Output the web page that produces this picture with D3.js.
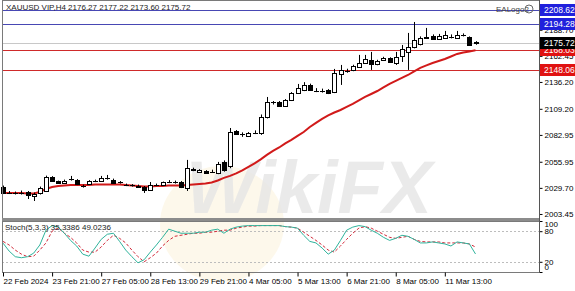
<!DOCTYPE html>
<html>
<head>
<meta charset="utf-8">
<script src="https://cdn.jsdelivr.net/npm/d3@7"></script>
<style>
	body { margin: 0; background: #fff; }
	svg { display: block; }
	text { font-family: 'Liberation Sans', Arial, sans-serif; }
</style>
</head>
<body>
<script>
// H4 candles
var opens = [2030.6,2024.6,2025,2024.5,2025.6,2021.6,2024.6,2026.6,2040.7,2036.6,
	2035,2038.5,2037.7,2032,2033.6,2036.6,2036.6,2039,2038,2035,
	2033,2032.6,2032,2030.6,2027.6,2032.6,2032.6,2035.6,2035.6,2035.6,
	2029.6,2048.5,2045.7,2046.7,2045.7,2044.7,2055.8,2051.7,2086.9,2084,
	2081.9,2085,2084.9,2101,2115.6,2116.1,2112.1,2118.1,2125.1,2128.2,
	2133.2,2127.5,2127.1,2128.2,2126.1,2144.2,2147.5,2148.3,2151.3,2155.3,
	2158.3,2154.3,2158.3,2160.3,2155.3,2162.3,2166.4,2171.4,2174.4,2181.5,
	2182.5,2179.4,2180.4,2181.5,2180.4,2183.3,2181.4,2176.27];
var highs = [2032,2026.5,2026,2027,2026.5,2025,2031,2042,2041.5,2037,
	2038,2041.7,2038.5,2033,2037.5,2038,2041.7,2042.7,2039,2036.5,
	2034,2033.5,2033,2031.5,2035.6,2034,2036,2037.5,2037,2036.5,
	2057.8,2050,2048.5,2047.5,2048,2055.8,2057.3,2089.9,2087.8,2085.5,
	2085.8,2087.5,2103.5,2121.1,2117,2117,2119,2126,2134.2,2136,
	2134.5,2130,2129.5,2129,2149.3,2153.3,2149.5,2153.5,2163.4,2163.4,
	2166.4,2158.5,2161.5,2161,2166.4,2173.4,2185.5,2196.5,2182,2190.5,
	2184,2184.5,2187.5,2184,2187.5,2185,2182,2177.22];
var lows = [2023.5,2023.5,2023,2023,2018.5,2016.5,2023,2025.5,2036,2034,
	2034.5,2037,2032.5,2030,2033,2035.5,2036,2038,2034,2034,
	2031.5,2031,2030.5,2024.6,2027,2031.5,2032,2034.5,2034,2029.5,
	2026.6,2046.5,2045,2044,2045,2043.5,2046,2049.5,2083,2081,
	2081.3,2083.8,2083,2099.5,2113.5,2111.5,2111,2117,2124.5,2127,
	2127.5,2126,2125.5,2124,2125,2133.2,2145.5,2147,2150.5,2154.5,
	2148.3,2153,2157.5,2155.5,2153.3,2156.3,2148.3,2170,2173,2180,
	2178.5,2178.5,2179.5,2180,2179.5,2182,2172.5,2173.6];
var closes = [2024.6,2025,2024.5,2025,2022.6,2023.6,2029.6,2040.7,2036.6,2034.6,
	2037,2038.8,2033.6,2031.6,2036.6,2036.8,2039.7,2039.2,2034.6,2035.3,
	2032.6,2032.4,2031.4,2027.6,2032.6,2032.8,2035.3,2035.8,2035.4,2030.6,
	2049.7,2047.7,2047.7,2044.7,2046,2053.8,2047.7,2085.9,2083.9,2083.7,
	2084.9,2085.2,2101,2116.1,2115.1,2112.1,2118.1,2125.1,2130.2,2133.2,
	2128.2,2127.1,2127.4,2125.1,2145.3,2148.3,2147.3,2152.3,2155.3,2159.3,
	2154.3,2157.3,2160.3,2156.3,2161.3,2169.4,2171.4,2178.4,2180.4,2180.8,
	2179.4,2182.5,2183.5,2181.8,2183.5,2183.5,2173.4,2175.72];

// red moving average
var maValues = [2024.6,2024.6,2024.6,2024.6,2024.1,2024.1,2025.6,2028.6,2030.6,2031.6,
	2032.1,2032.6,2032.6,2032.6,2032.6,2033.1,2033.1,2033.1,2033.1,2033.1,
	2032.6,2032.1,2031.6,2031.1,2031.1,2031.6,2031.6,2032.1,2032.1,2032.1,
	2032.6,2033.1,2033.6,2034.1,2035.1,2037.1,2039.7,2041.7,2044.2,2047.2,
	2050.7,2054.3,2058.3,2062.8,2066.8,2070.3,2074.4,2077.9,2081.9,2085.9,
	2090.9,2095.0,2099.0,2102.5,2105.5,2108.0,2111.1,2114.1,2117.6,2121.1,
	2124.1,2127.1,2130.7,2134.2,2137.2,2140.2,2143.2,2146.8,2150.3,2152.8,
	2155.3,2157.3,2159.3,2161.8,2164.4,2165.9,2166.9,2168.03];

// stochastic (5,3,3): main and signal lines
var stochMain = [56.7,41,30,28,30,37,53,82,91,88,
	76,62,51,35,31,47,64,74,76,60,
	43,30,18,24,39,53,68,84,80,76,
	76,76,78,78,82,84,76,84,88,90,
	91,91,91,91,91,91,89,88,86,72,
	60,57,47,35,43,62,82,88,91,89,
	82,76,68,62,66,72,70,64,57,57,
	59,57,55,51,59,57,55,35.34];
var stochSignal = [60,53,43,35,30,31,43,57,80,86,
	76,68,57,43,39,39,49,62,72,66,
	57,43,30,20,28,37,51,62,70,72,
	74,76,76,78,78,80,82,82,86,88,
	90,90,91,91,91,91,89,88,86,78,
	70,62,53,43,39,51,64,76,86,89,
	86,80,74,68,66,68,70,64,60,59,
	59,59,57,57,57,57,55,49.02];

// axes
var priceTicks = [2188.70, 2162.45, 2136.20, 2109.20, 2082.95, 2055.95, 2029.70, 2003.45];
var stochTicks = [100, 80, 20, 0];
var stochLevels = [80, 20];
var timeIndex = [0, 8, 16, 24, 32, 40, 48, 56, 64, 72];
var timeLabels = ['22 Feb 2024', '23 Feb 21:00', '27 Feb 05:00', '28 Feb 13:00', '29 Feb 21:00',
	'4 Mar 05:00', '5 Mar 13:00', '6 Mar 21:00', '8 Mar 05:00', '11 Mar 13:00'];

// horizontal levels drawn on the chart and the boxed prices on the right axis
var levelPrices = [2208.62, 2194.28, 2168.03, 2148.06];
var levelKinds = ['blue', 'blue', 'red', 'red'];
var bidPrice = 2175.72;

var titleText = 'XAUUSD VIP,H4  2176.27 2177.22 2173.60 2175.72';
var stochTitle = 'Stoch(5,3,3) 35.3386 49.0236';

function draw_chart() {
	var width = 575, height = 291;
	var left = 2, right = 539;
	var mainTop = 0, mainBottom = 218;
	var stochTop = 221, stochBottom = 272;

	var svg = d3.select('body').append('svg').attr('width', width).attr('height', height);

	// scales
	var x = d3.scaleLinear().domain([0, closes.length - 1]).range([3, 475.5]);
	var y = d3.scaleLinear().domain([1999.4, 2217.6]).range([mainBottom, mainTop + 1]);
	var ys = d3.scaleLinear().domain([0, 100]).range([stochBottom, stochTop]);

	var levelColor = {blue: '#4848b4', red: '#cf2a2a'};
	var boxColor = {blue: '#2020dc', red: '#e01212'};

	// watermark behind everything
	var wm = svg.append('g').attr('id', 'watermark');
	wm.append('ellipse').attr('cx', 222).attr('cy', 224).attr('rx', 62).attr('ry', 58)
		.attr('fill', '#fbf0d2').attr('opacity', 0.45);
	wm.append('text').attr('x', 186).attr('y', 213).text('WikiFX')
		.attr('font-size', 74).attr('font-weight', 'bold').attr('font-style', 'italic')
		.attr('fill', '#e6e6e6').attr('opacity', 0.8);

	// level lines
	var levels = svg.append('g').attr('id', 'levels');
	levels.append('line').attr('x1', left).attr('x2', right)
		.attr('y1', Math.round(y(bidPrice)) + 0.5).attr('y2', Math.round(y(bidPrice)) + 0.5)
		.attr('stroke', '#c8c8c8').attr('stroke-width', 1);
	levels.selectAll('line.lvl').data(levelPrices).enter().append('line').attr('class', 'lvl')
		.attr('x1', left).attr('x2', right)
		.attr('y1', d => Math.round(y(d)) + 0.5).attr('y2', d => Math.round(y(d)) + 0.5)
		.attr('stroke', (d, i) => levelColor[levelKinds[i]]).attr('stroke-width', 1);

	// moving average
	svg.append('path').datum(maValues)
		.attr('d', d3.line().x((d, i) => x(i)).y(d => y(d)).curve(d3.curveLinear))
		.attr('fill', 'none').attr('stroke', '#d11a1a').attr('stroke-width', 2);

	// candles
	var candles = svg.append('g').attr('id', 'candles').selectAll('g').data(closes).enter().append('g');
	candles.append('line')
		.attr('x1', (d, i) => Math.round(x(i)) + 0.5).attr('x2', (d, i) => Math.round(x(i)) + 0.5)
		.attr('y1', (d, i) => y(highs[i])).attr('y2', (d, i) => y(lows[i]))
		.attr('stroke', '#000').attr('stroke-width', 1);
	candles.append('rect')
		.attr('x', (d, i) => Math.round(x(i)) - 1.5)
		.attr('y', (d, i) => Math.round(y(Math.max(opens[i], d))) + 0.5)
		.attr('width', 4)
		.attr('height', (d, i) => Math.max(0.01, Math.round(Math.abs(y(opens[i]) - y(d)))))
		.attr('fill', (d, i) => d >= opens[i] ? '#fff' : '#000')
		.attr('stroke', '#000').attr('stroke-width', 1);

	// stochastic pane
	var st = svg.append('g').attr('id', 'stoch');
	st.selectAll('line.lev').data(stochLevels).enter().append('line').attr('class', 'lev')
		.attr('x1', left).attr('x2', right)
		.attr('y1', d => Math.round(ys(d)) + 0.5).attr('y2', d => Math.round(ys(d)) + 0.5)
		.attr('stroke', '#bdbdbd').attr('stroke-dasharray', '2,2');
	st.append('path').datum(stochSignal)
		.attr('d', d3.line().x((d, i) => x(i)).y(d => ys(d)))
		.attr('fill', 'none').attr('stroke', '#d22a3a').attr('stroke-width', 1).attr('stroke-dasharray', '3,2');
	st.append('path').datum(stochMain)
		.attr('d', d3.line().x((d, i) => x(i)).y(d => ys(d)))
		.attr('fill', 'none').attr('stroke', '#2fb39c').attr('stroke-width', 1);

	// frames and pane separator
	svg.append('rect').attr('x', left + 0.5).attr('y', mainTop + 0.5)
		.attr('width', right - left).attr('height', mainBottom - mainTop)
		.attr('fill', 'none').attr('stroke', '#7a7a7a');
	svg.append('rect').attr('x', left).attr('y', mainBottom).attr('width', right - left + 1).attr('height', stochTop - mainBottom)
		.attr('fill', '#8c8c8c');
	svg.append('rect').attr('x', left + 0.5).attr('y', stochTop + 0.5)
		.attr('width', right - left).attr('height', stochBottom - stochTop)
		.attr('fill', 'none').attr('stroke', '#7a7a7a');

	// price axis
	svg.append('g').attr('transform', 'translate(' + (right + 0.5) + ',0)')
		.call(d3.axisRight(y).tickValues(priceTicks).tickSize(3).tickPadding(2).tickFormat(d3.format('.2f')))
		.call(g => g.select('.domain').remove());

	// boxed prices on the axis
	var boxes = svg.append('g').attr('id', 'boxes');
	var boxData = levelPrices.map((p, i) => ({p: p, c: boxColor[levelKinds[i]]}));
	boxData.push({p: bidPrice, c: '#000'});
	var bx = boxes.selectAll('g').data(boxData).enter().append('g')
		.attr('transform', d => 'translate(' + (right + 1) + ',' + Math.round(y(d.p)) + ')');
	bx.append('rect').attr('x', 0).attr('y', -6).attr('width', width - right - 1).attr('height', 12).attr('fill', d => d.c);
	bx.append('text').attr('x', 4).attr('dy', '0.35em').text(d => d3.format('.2f')(d.p))
		.attr('fill', '#fff').attr('font-size', 8.5);

	// stochastic axis
	svg.append('g').attr('transform', 'translate(' + (right + 0.5) + ',0)')
		.call(d3.axisRight(ys).tickValues(stochTicks).tickSize(3).tickPadding(2))
		.call(g => g.select('.domain').remove())
		.selectAll('text').attr('dy', d => d === 100 ? '0.7em' : (d === 0 ? '-0.3em' : '0.32em'));

	// time axis
	svg.append('g').attr('transform', 'translate(0,' + (stochBottom + 0.5) + ')')
		.call(d3.axisBottom(x).tickValues(timeIndex).tickSize(4).tickPadding(2).tickFormat((d, i) => timeLabels[i]))
		.call(g => g.select('.domain').remove())
		.selectAll('text').attr('text-anchor', 'start').attr('x', 0);

	// right border of the chart
	svg.append('line').attr('x1', right + 0.5).attr('x2', right + 0.5).attr('y1', 0).attr('y2', stochBottom + 1)
		.attr('stroke', '#555');

	// titles
	svg.append('text').attr('x', 6).attr('y', 10).text(titleText).attr('fill', '#222').attr('font-size', 8);
	svg.append('text').attr('x', 5).attr('y', stochTop + 9).text(stochTitle).attr('fill', '#222').attr('font-size', 8);
	svg.append('text').attr('x', 496).attr('y', 12).text('EALogo2').attr('fill', '#444').attr('font-size', 8);
	svg.append('circle').attr('cx', 529).attr('cy', 9).attr('r', 4).attr('fill', 'none').attr('stroke', '#666');

	d3.selectAll('.tick text').attr('font-size', 8).attr('font-family', "'Liberation Sans', Arial, sans-serif").attr('fill', '#000');
	d3.selectAll('.tick line').attr('stroke', '#000');
}

draw_chart();
</script>
</body>
</html>
